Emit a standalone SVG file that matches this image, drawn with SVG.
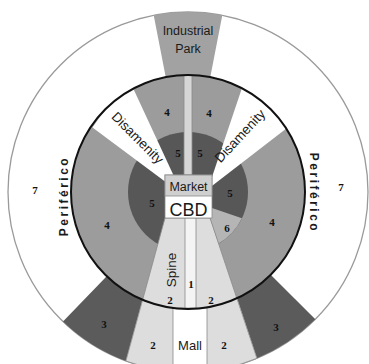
<svg xmlns="http://www.w3.org/2000/svg" width="369" height="364" viewBox="0 0 369 364">
  <style>
    .lbl { font-family: "Liberation Sans", Arial, sans-serif; fill: #1a1a1a; text-anchor: middle; }
    .num { font-family: "Liberation Serif", "Times New Roman", serif; font-weight: bold; font-size: 11px; fill: #111; text-anchor: middle; }
    .edge { stroke: #8a8a8a; stroke-width: 0.8; }
  </style>
  <rect width="369" height="364" fill="#ffffff"/>

  <!-- outer ring (zone 7) -->
  <g id="outer-ring">
    <circle cx="188" cy="192" r="180" fill="#ffffff" stroke="#9a9a9a" stroke-width="1.3"/>
  </g>

  <!-- industrial park wedge -->
  <g id="industrial-park">
    <path d="M153.7,15.3 A180,180 0 0 1 222.3,15.3 L210.3,77.1 A117,117 0 0 0 165.7,77.1 Z" fill="#a2a2a2"/>
    <text class="lbl" x="188" y="35" font-size="12.5">Industrial</text>
    <text class="lbl" x="188" y="53" font-size="12.5">Park</text>
  </g>

  <!-- sector 3 wedges -->
  <g id="sector-3-left">
    <path d="M106.7,276.2 L63,321.5 A180,180 0 0 0 125.9,361 L142.5,300 A117,117 0 0 1 106.7,276.2 Z" fill="#5b5b5b"/>
  </g>
  <g id="sector-3-right">
    <path d="M237,298.3 L256.9,358.3 A180,180 0 0 0 315.3,319.3 L270.7,274.7 A117,117 0 0 1 237,298.3 Z" fill="#5b5b5b"/>
  </g>

  <!-- inner city: zone 4 ring and zone 5 core -->
  <g id="zone-4">
    <circle cx="188" cy="192" r="117" fill="#9c9c9c"/>
  </g>
  <g id="zone-5">
    <circle cx="188" cy="192" r="60" fill="#575757"/>
  </g>

  <!-- zone 6 -->
  <g id="zone-6">
    <path d="M212,208 L241.9,218.3 A60,60 0 0 1 218.6,243.6 L210,218 Z" fill="#b5b5b5"/>
  </g>

  <!-- disamenity wedges -->
  <g id="disamenity-left">
    <path d="M92.5,127.5 A117,117 0 0 1 133,88 L175.7,180 L168,183.7 Z" fill="#ffffff"/>
    <text class="lbl" font-size="13.5" transform="translate(137.5,138) rotate(45)" dy="4.5">Disamenity</text>
  </g>
  <g id="disamenity-right">
    <path d="M242,88 A117,117 0 0 1 287,128 L208,189 L210.3,182 Z" fill="#ffffff"/>
    <text class="lbl" font-size="13.5" transform="translate(240,136) rotate(-47)" dy="4.5">Disamenity</text>
  </g>

  <!-- spine and mall -->
  <g id="spine">
    <path d="M165,218 L210,218 L256.9,358.3 A180,180 0 0 1 125.9,361 Z" fill="#dddddd" class="edge"/>
    <rect x="185" y="218" width="11" height="92" fill="#f4f4f4" class="edge"/>
    <text class="lbl" font-size="13.5" transform="translate(171,270) rotate(-90)" dy="4.5">Spine</text>
  </g>
  <g id="mall">
    <rect x="173" y="308" width="34" height="64" fill="#ffffff" class="edge"/>
    <text class="lbl" x="190" y="350" font-size="13" fill="#333">Mall</text>
  </g>

  <!-- narrow strip toward the industrial park -->
  <g id="top-strip">
    <rect x="184" y="75" width="8" height="100" fill="#d6d6d6" class="edge"/>
  </g>

  <!-- city boundary -->
  <g id="boundary">
    <circle cx="188" cy="192" r="117" fill="none" stroke="#111" stroke-width="2"/>
  </g>

  <!-- market / CBD core -->
  <g id="cbd">
    <rect x="165" y="175" width="47" height="43" fill="#ffffff" class="edge"/>
    <rect x="165" y="175" width="47" height="21" fill="#cfcfcf" class="edge"/>
    <text class="lbl" x="188.5" y="191" font-size="12.5">Market</text>
    <text class="lbl" x="188.5" y="216" font-size="18">CBD</text>
  </g>

  <!-- periférico labels -->
  <g id="periferico-left">
    <text class="lbl" font-size="12" font-weight="bold" letter-spacing="2.5" transform="translate(64,196) rotate(-90)" dy="4">Periférico</text>
  </g>
  <g id="periferico-right">
    <text class="lbl" font-size="12" font-weight="bold" letter-spacing="2.5" transform="translate(314,193) rotate(90)" dy="4">Periférico</text>
  </g>

  <!-- zone numbers -->
  <g id="zone-numbers">
    <text class="num" x="167" y="116">4</text>
    <text class="num" x="209" y="117">4</text>
    <text class="num" x="178" y="157">5</text>
    <text class="num" x="200" y="157">5</text>
    <text class="num" x="152" y="207">5</text>
    <text class="num" x="230" y="197">5</text>
    <text class="num" x="227" y="232">6</text>
    <text class="num" x="107" y="229">4</text>
    <text class="num" x="272" y="226">4</text>
    <text class="num" x="35" y="194">7</text>
    <text class="num" x="341" y="191">7</text>
    <text class="num" x="104" y="328">3</text>
    <text class="num" x="276" y="331">3</text>
    <text class="num" x="170" y="304">2</text>
    <text class="num" x="211" y="304">2</text>
    <text class="num" x="153" y="349">2</text>
    <text class="num" x="224" y="349">2</text>
    <text class="num" x="191" y="288">1</text>
  </g>
</svg>
